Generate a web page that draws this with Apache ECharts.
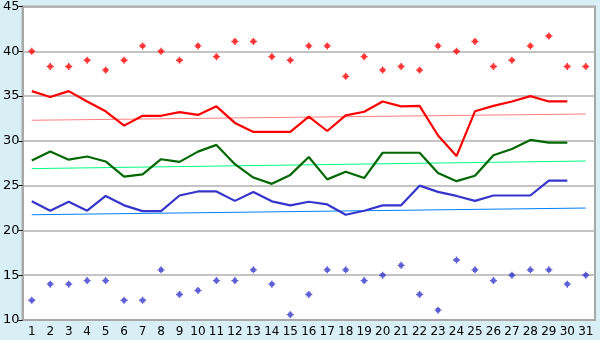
<!DOCTYPE html>
<html>
<head>
<meta charset="utf-8">
<script src="https://cdn.jsdelivr.net/npm/echarts@6/dist/echarts.min.js"></script>
<style>
  html, body { margin: 0; padding: 0; background: #d9eff6; }
  #chart { width: 600px; height: 340px; }
</style>
</head>
<body>
<div id="chart"></div>
<script>
const days = Array.from({ length: 31 }, (_, i) => String(i + 1));

// upper scatter (red) and lower scatter (blue)
const redDots = [40.0, 38.3, 38.3, 39.0, 37.9, 39.0, 40.6, 40.0, 39.0, 40.6,
  39.4, 41.1, 41.1, 39.4, 39.0, 40.6, 40.6, 37.2, 39.4, 37.9,
  38.3, 37.9, 40.6, 40.0, 41.1, 38.3, 39.0, 40.6, 41.7, 38.3, 38.3];
const blueDots = [12.2, 14.0, 14.0, 14.4, 14.4, 12.2, 12.2, 15.6, 12.85, 13.3,
  14.4, 14.4, 15.6, 14.0, 10.6, 12.85, 15.6, 15.6, 14.4, 15.0,
  16.1, 12.85, 11.1, 16.7, 15.6, 14.4, 15.0, 15.6, 15.6, 14.0, 15.0];

// main lines (30 days)
const redLine = [35.55, 34.9, 35.55, 34.4, 33.3, 31.7, 32.8, 32.8, 33.2, 32.9,
  33.85, 32.0, 31.0, 31.0, 31.0, 32.7, 31.1, 32.85, 33.25, 34.4,
  33.85, 33.9, 30.6, 28.3, 33.3, 33.9, 34.4, 35.0, 34.4, 34.4];
const greenLine = [27.8, 28.8, 27.9, 28.25, 27.7, 26.0, 26.25, 27.95, 27.65, 28.8,
  29.55, 27.4, 25.9, 25.2, 26.2, 28.2, 25.7, 26.55, 25.85, 28.67,
  28.67, 28.67, 26.4, 25.5, 26.1, 28.4, 29.1, 30.1, 29.8, 29.8];
const blueLine = [23.25, 22.2, 23.2, 22.2, 23.85, 22.8, 22.15, 22.15, 23.9, 24.35,
  24.35, 23.3, 24.3, 23.25, 22.8, 23.2, 22.9, 21.75, 22.2, 22.8,
  22.8, 25.0, 24.3, 23.85, 23.3, 23.9, 23.9, 23.9, 25.55, 25.55];

// trend lines: start and end values
const redTrend = [32.3, 33.0];
const greenTrend = [26.9, 27.75];
const blueTrend = [21.75, 22.5];

const yTicks = { min: 10, max: 45, interval: 5 };

function trendData(ends) {
  return days.map((_, i) => (i === 0 ? ends[0] : i === days.length - 1 ? ends[1] : null));
}

const plus = 'path://M2,0h1v1h1v1h1v1h-1v1h-1v1h-1v-1h-1v-1h-1v-1h1v-1h1z';
const FONT = '"DejaVu Sans", Verdana, sans-serif';

const chart = echarts.init(document.getElementById('chart'), null, { renderer: 'canvas' });
chart.setOption({
  backgroundColor: '#d9eff6',
  animation: false,
  grid: {
    left: 21, right: 5, top: 5, bottom: 20,
    show: true, backgroundColor: '#ffffff', borderColor: '#a8a8a8', borderWidth: 2
  },
  xAxis: {
    type: 'category',
    data: days,
    boundaryGap: true,
    axisLine: { lineStyle: { color: '#a8a8a8', width: 2 } },
    axisTick: { alignWithLabel: true, length: 5, lineStyle: { color: '#000' } },
    axisLabel: { color: '#000', fontSize: 12, fontFamily: FONT, margin: 6, interval: 0 },
    splitLine: { show: false }
  },
  yAxis: {
    type: 'value',
    min: yTicks.min, max: yTicks.max, interval: yTicks.interval,
    axisLine: { show: true, lineStyle: { color: '#a8a8a8', width: 2 } },
    axisTick: { show: true, length: 4, lineStyle: { color: '#000' } },
    axisLabel: { color: '#000', fontSize: 13, fontFamily: FONT, margin: 3 },
    splitLine: { lineStyle: { color: '#b0b0b0', width: 1.5 } }
  },
  series: [
    { type: 'line', data: trendData(redTrend), connectNulls: true, showSymbol: false,
      lineStyle: { color: '#ff8080', width: 1 }, z: 2 },
    { type: 'line', data: trendData(greenTrend), connectNulls: true, showSymbol: false,
      lineStyle: { color: '#00ff80', width: 1 }, z: 2 },
    { type: 'line', data: trendData(blueTrend), connectNulls: true, showSymbol: false,
      lineStyle: { color: '#0080ff', width: 1 }, z: 2 },
    { type: 'line', data: redLine, showSymbol: false,
      lineStyle: { color: '#ff0000', width: 2.2 }, z: 3 },
    { type: 'line', data: greenLine, showSymbol: false,
      lineStyle: { color: '#006800', width: 2.2 }, z: 3 },
    { type: 'line', data: blueLine, showSymbol: false,
      lineStyle: { color: '#3535cc', width: 2.2 }, z: 3 },
    { type: 'scatter', data: redDots, symbol: plus, symbolSize: 7,
      itemStyle: { color: '#ff0000' }, z: 4 },
    { type: 'scatter', data: blueDots, symbol: plus, symbolSize: 7,
      itemStyle: { color: '#3535cc' }, z: 4 }
  ]
});
</script>
</body>
</html>
